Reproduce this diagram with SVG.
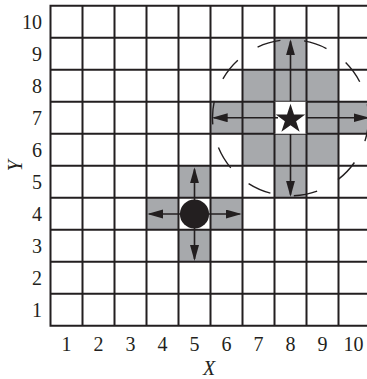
<svg xmlns="http://www.w3.org/2000/svg" width="367" height="379" viewBox="0 0 367 379">
<style>
.cell{fill:#a7a9ac;stroke:none}
.grid{stroke:#231f20;stroke-width:2;fill:none}
.arrow{stroke:#231f20;stroke-width:1.6;fill:none;marker-end:url(#head)}
.dash{stroke:#231f20;stroke-width:1.4;fill:none}
.lbl{font-family:"Liberation Serif","Times New Roman",serif;font-size:20px;fill:#231f20}
.ax{font-family:"Liberation Serif","Times New Roman",serif;font-size:20px;font-style:italic;fill:#231f20}
</style>
<defs>
<marker id="head" markerUnits="userSpaceOnUse" markerWidth="16" markerHeight="10" refX="14" refY="4.5" orient="auto">
<path d="M0,0 L16,4.5 L0,9 z" fill="#231f20"/>
</marker>
</defs>
<rect width="367" height="379" fill="#ffffff"/>
<g id="shaded-cells">
<rect class="cell" x="178.5" y="165.75" width="32" height="32"/>
<rect class="cell" x="178.5" y="229.75" width="32" height="32"/>
<rect class="cell" x="146.5" y="197.75" width="32" height="32"/>
<rect class="cell" x="210.5" y="197.75" width="32" height="32"/>
<rect class="cell" x="274.5" y="37.75" width="32" height="32"/>
<rect class="cell" x="242.5" y="69.75" width="96" height="32"/>
<rect class="cell" x="210.5" y="101.75" width="64" height="32"/>
<rect class="cell" x="306.5" y="101.75" width="64" height="32"/>
<rect class="cell" x="242.5" y="133.75" width="96" height="32"/>
<rect class="cell" x="274.5" y="165.75" width="32" height="32"/>
</g>
<g id="grid">
<path class="grid" d="M50.5,5.75V325.75M82.5,5.75V325.75M114.5,5.75V325.75M146.5,5.75V325.75M178.5,5.75V325.75M210.5,5.75V325.75M242.5,5.75V325.75M274.5,5.75V325.75M306.5,5.75V325.75M338.5,5.75V325.75M370.5,5.75V325.75
M49.5,5.75H371.5M49.5,37.75H371.5M49.5,69.75H371.5M49.5,101.75H371.5M49.5,133.75H371.5M49.5,165.75H371.5M49.5,197.75H371.5M49.5,229.75H371.5M49.5,261.75H371.5M49.5,293.75H371.5M49.5,325.75H371.5"/>
</g>
<g id="range-circle">
<circle class="dash" cx="290.5" cy="117.75" r="78" pathLength="360" stroke-dasharray="17.5 17.5"/>
</g>
<g id="connectors">
<line class="arrow" x1="290.5" y1="117.75" x2="290.5" y2="41.3"/>
<line class="arrow" x1="290.5" y1="117.75" x2="213.7" y2="117.75"/>
<line class="arrow" x1="290.5" y1="117.75" x2="367.5" y2="117.75"/>
<line class="arrow" x1="290.5" y1="117.75" x2="290.5" y2="194.7"/>
<line class="arrow" x1="194.5" y1="214" x2="194.5" y2="169.3"/>
<line class="arrow" x1="194.5" y1="214" x2="149.3" y2="214"/>
<line class="arrow" x1="194.5" y1="214" x2="239.7" y2="214"/>
<line class="arrow" x1="194.5" y1="214" x2="194.5" y2="259"/>
</g>
<g id="star-node">
<rect x="274.5" y="101.75" width="32" height="32" fill="#ffffff"/>
<path class="grid" d="M274.5,101.75V133.75M306.5,101.75V133.75"/>
<line x1="274.5" y1="117.75" x2="278" y2="117.75" stroke="#231f20" stroke-width="1.6"/>
<polygon points="290.5,103.8 293.98,114.51 305.24,114.51 296.13,121.13 299.61,131.84 290.5,125.22 281.39,131.84 284.87,121.13 275.76,114.51 287.02,114.51" fill="#231f20"/>
</g>
<g id="circle-node">
<circle cx="194.5" cy="214" r="14.6" fill="#231f20"/>
</g>
<g id="y-labels" class="lbl" text-anchor="end">
<text x="42" y="29">10</text>
<text x="42" y="61">9</text>
<text x="42" y="93">8</text>
<text x="42" y="125">7</text>
<text x="42" y="157">6</text>
<text x="42" y="189">5</text>
<text x="42" y="221">4</text>
<text x="42" y="253">3</text>
<text x="42" y="285">2</text>
<text x="42" y="317">1</text>
</g>
<g id="x-labels" class="lbl" text-anchor="middle">
<text x="66.5" y="350.7">1</text>
<text x="98.5" y="350.7">2</text>
<text x="130.5" y="350.7">3</text>
<text x="162.5" y="350.7">4</text>
<text x="194.5" y="350.7">5</text>
<text x="226.5" y="350.7">6</text>
<text x="258.5" y="350.7">7</text>
<text x="290.5" y="350.7">8</text>
<text x="322.5" y="350.7">9</text>
<text x="353.5" y="350.7">10</text>
</g>
<g id="axis-titles">
<text class="ax" x="209" y="374.5" text-anchor="middle">X</text>
<text class="ax" transform="translate(22,165.75) rotate(-90)" text-anchor="middle">Y</text>
</g>
</svg>
